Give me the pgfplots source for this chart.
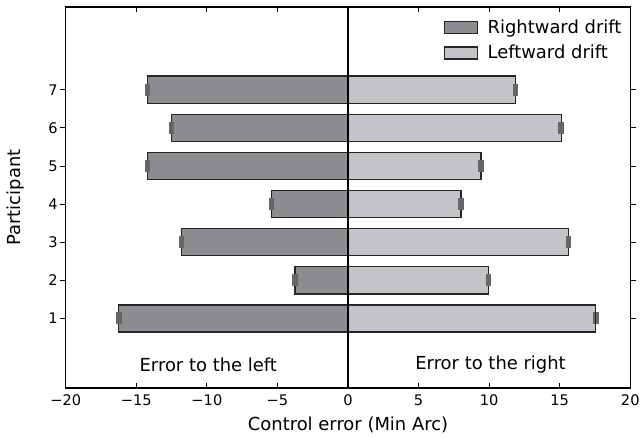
\documentclass[border=0pt]{standalone}
\usepackage{fontspec}
\setmainfont{DejaVu Sans}
\usepackage{pgfplots}
\pgfplotsset{compat=1.18}
\definecolor{darkbar}{HTML}{8C8D91}
\definecolor{lightbar}{HTML}{C3C4C8}
\begin{document}
\begin{tikzpicture}
\begin{axis}[
  scale only axis,
  width=425pt, height=287pt,
  xmin=-20, xmax=20, ymin=-0.83, ymax=9.17,
  xtick={-20,-15,-10,-5,0,5,10,15,20},
  xticklabels={−20,−15,−10,−5,0,5,10,15,20},
  ytick={1,2,3,4,5,6,7},
  tick align=inside, tick pos=both,
  major tick length=4pt,
  tick style={black, line width=0.6pt},
  axis line style={line width=1.1pt},
  /pgf/number format/assume math mode=true,
  ticklabel style={font=\fontsize{11}{13}\selectfont},
  yticklabel style={xshift=1.5pt},
  xticklabel style={yshift=-1.5pt},
  xlabel={Control error (Min Arc)},
  ylabel={Participant},
  label style={font=\fontsize{13.5}{16}\selectfont},
  xlabel style={at={(rel axis cs:0.5,-0.097)}, anchor=center},
  ylabel style={at={(rel axis cs:-0.0894,0.5)}, anchor=center},
  xbar, bar shift=0pt, bar width=0.71,
  legend style={at={(rel axis cs:1,1)}, anchor=north east, xshift=-1.5pt, yshift=-5.5pt,
    draw=none, fill=none,
    font=\fontsize{13.5}{16}\selectfont, row sep=3.4pt},
  legend cell align=left,
  legend image code/.code={\draw[#1, line width=1pt] (0pt,-4.5pt) rectangle (24.75pt,4.5pt); \path[draw=none,fill=none] (0pt,0pt) -- (30.5pt,0pt);},
]
\addplot[fill=darkbar, draw=black!85, line width=1pt,
  error bars/.cd, x dir=both, x explicit,
  error bar style={black!70, line width=1pt},
  error mark options={rotate=90, mark size=4.5pt, black!60, line width=2.2pt}]
  table[x=x, y=y, x error=e] {
  y x e
  1 -16.24 0.12
  2 -3.76 0.10
  3 -11.80 0.10
  4 -5.40 0.08
  5 -14.20 0.10
  6 -12.51 0.10
  7 -14.22 0.08
};
\addlegendentry{Rightward drift}
\addplot[fill=lightbar, draw=black!85, line width=1pt,
  error bars/.cd, x dir=both, x explicit,
  error bar style={black!70, line width=1pt},
  error mark options={rotate=90, mark size=4.5pt, black!60, line width=2.2pt}]
  table[x=x, y=y, x error=e] {
  y x e
  1 17.55 0.12
  2 9.96 0.08
  3 15.63 0.10
  4 8.01 0.08
  5 9.42 0.10
  6 15.11 0.10
  7 11.89 0.08
};
\addlegendentry{Leftward drift}
\draw[black, line width=1.5pt] (axis cs:0,-0.83) -- (axis cs:0,9.17);
\node[font=\fontsize{13.5}{16}\selectfont] at (axis cs:-9.9,-0.22) {Error to the left};
\node[font=\fontsize{13.5}{16}\selectfont] at (axis cs:10.1,-0.22) {Error to the right};
\end{axis}
\path ([xshift=-49.5pt,yshift=-32.25pt]current axis.south west) rectangle ([xshift=8.25pt,yshift=5.25pt]current axis.north east);
\end{tikzpicture}
\end{document}
